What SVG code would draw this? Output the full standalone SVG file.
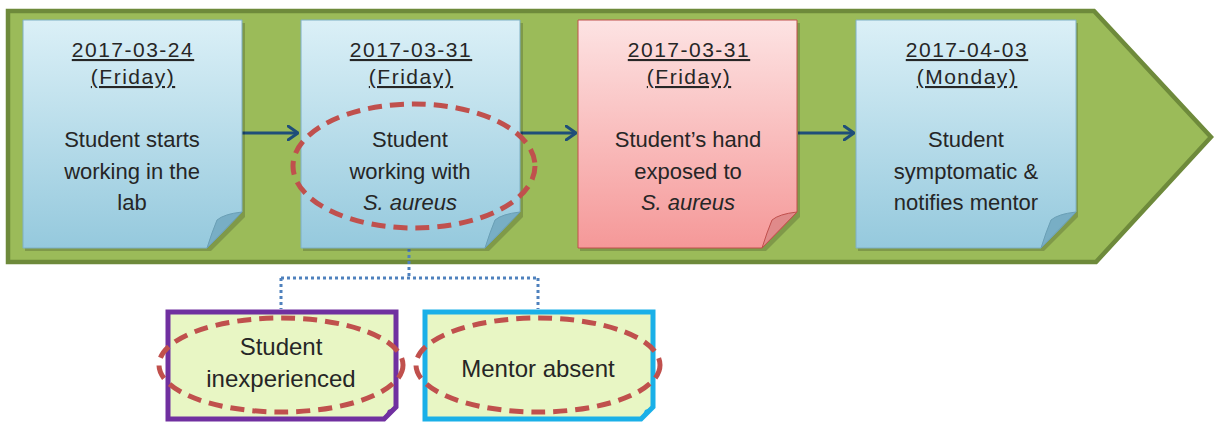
<svg xmlns="http://www.w3.org/2000/svg" width="1214" height="422" viewBox="0 0 1214 422">
<defs>
<linearGradient id="gb" x1="0" y1="0" x2="0" y2="1"><stop offset="0" stop-color="#dbf0f7"/><stop offset="1" stop-color="#95c9dd"/></linearGradient>
<linearGradient id="gr" x1="0" y1="0" x2="0" y2="1"><stop offset="0" stop-color="#fde3e3"/><stop offset="1" stop-color="#f59898"/></linearGradient>
<marker id="ah" viewBox="0 0 12 16" refX="11" refY="8" markerWidth="12" markerHeight="16" markerUnits="userSpaceOnUse" orient="auto"><path d="M1,1 L11,8 L1,15" fill="none" stroke="#1f4e79" stroke-width="3" stroke-linecap="round" stroke-linejoin="round"/></marker>
<style>
text{font-family:"Liberation Sans",Arial,sans-serif;fill:#262626;text-anchor:middle}
.d{font-size:21px;letter-spacing:1.5px;text-decoration:underline}
.b{font-size:22px}
.c{font-size:24px}
.i{font-style:italic}
.nb{fill:url(#gb);stroke:#7fb0c4;stroke-width:1}
.nr{fill:url(#gr);stroke:#c0504d;stroke-width:1}
.fb{fill:#78aec5;stroke:#6a9fb5;stroke-width:1}
.fr{fill:#e08a8a;stroke:#c0504d;stroke-width:1}
.sh{fill:#000;opacity:.18}
.ell{fill:none;stroke:#c0504d;stroke-width:5;stroke-dasharray:14 8}
.arr{stroke:#1f4e79;stroke-width:3;fill:none}
.dot{stroke:#4f81bd;stroke-width:3;fill:none;stroke-dasharray:3 3}
.box{fill:#e8f6c4;stroke-width:5}
</style>
</defs>
<g id="band"><polygon points="8,11 1094,11 1211,137 1096,262 8,262" fill="#9bbb59" stroke="#6e8a3b" stroke-width="4.5"/></g>
<g id="connectors">
<line class="arr" x1="242" y1="133" x2="298" y2="133" marker-end="url(#ah)"/>
<line class="arr" x1="520" y1="133" x2="576" y2="133" marker-end="url(#ah)"/>
<line class="arr" x1="798" y1="133" x2="854" y2="133" marker-end="url(#ah)"/>
<path class="dot" d="M409,249 V278 M281,278 H538 M281,278 V309 M538,278 V309"/>
</g>
<g id="n1">
<path class="sh" d="M25,23 h220 v194 l-34,34 h-186 z"/>
<path class="nb" d="M23,20 h219 v192 l-35,36 h-184 z"/>
<path class="fb" d="M207,248 L242,212 Q224,214 217,220 Q212,232 207,248 z"/>
<text class="d" x="133" y="57">2017-03-24</text>
<text class="d" x="133" y="84">(Friday)</text>
<text class="b" x="132" y="147">Student starts</text>
<text class="b" x="132" y="179">working in the</text>
<text class="b" x="132" y="210">lab</text>
</g>
<g id="n2">
<path class="sh" d="M303,23 h220 v194 l-34,34 h-186 z"/>
<path class="nb" d="M301,20 h219 v192 l-35,36 h-184 z"/>
<path class="fb" d="M485,248 L520,212 Q502,214 495,220 Q490,232 485,248 z"/>
<text class="d" x="411" y="57">2017-03-31</text>
<text class="d" x="411" y="84">(Friday)</text>
<text class="b" x="410" y="147">Student</text>
<text class="b" x="410" y="179">working with</text>
<text class="b i" x="410" y="210">S. aureus</text>
<ellipse class="ell" cx="414" cy="166" rx="121" ry="62"/>
</g>
<g id="n3">
<path class="sh" d="M580,23 h220 v194 l-34,34 h-186 z"/>
<path class="nr" d="M578,20 h219 v192 l-35,36 h-184 z"/>
<path class="fr" d="M762,248 L797,212 Q779,214 772,220 Q767,232 762,248 z"/>
<text class="d" x="689" y="57">2017-03-31</text>
<text class="d" x="689" y="84">(Friday)</text>
<text class="b" x="688" y="147">Student’s hand</text>
<text class="b" x="688" y="179">exposed to</text>
<text class="b i" x="688" y="210">S. aureus</text>
</g>
<g id="n4">
<path class="sh" d="M858,23 h220 v194 l-34,34 h-186 z"/>
<path class="nb" d="M856,20 h220 v192 l-35,36 h-185 z"/>
<path class="fb" d="M1041,248 L1076,212 Q1058,214 1051,220 Q1046,232 1041,248 z"/>
<text class="d" x="967" y="57">2017-04-03</text>
<text class="d" x="967" y="84">(Monday)</text>
<text class="b" x="966" y="147">Student</text>
<text class="b" x="966" y="179">symptomatic &amp;</text>
<text class="b" x="966" y="210">notifies mentor</text>
</g>
<g id="f1">
<path class="box" stroke="#7030a0" d="M168,312 h228 v95 l-12,12 h-216 z"/>
<path d="M384,419 L396,407 L388,410 z" fill="#7030a0"/>
<text class="c" x="281" y="355">Student</text>
<text class="c" x="281" y="387">inexperienced</text>
<ellipse class="ell" cx="281" cy="365" rx="122" ry="47"/>
</g>
<g id="f2">
<path class="box" stroke="#1ab0e8" d="M425,312 h228 v95 l-12,12 h-216 z"/>
<path d="M641,419 L653,407 L645,410 z" fill="#1ab0e8"/>
<text class="c" x="538" y="377">Mentor absent</text>
<ellipse class="ell" cx="538" cy="365" rx="122" ry="47"/>
</g>
</svg>
